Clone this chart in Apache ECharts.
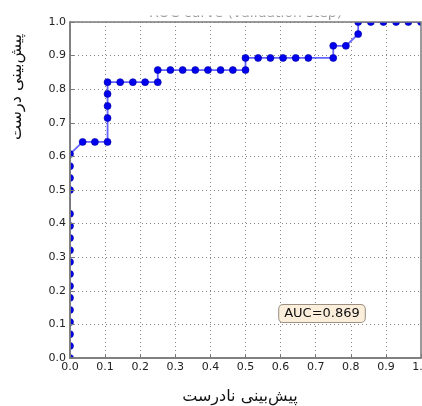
<!DOCTYPE html>
<html>
<head>
<meta charset="utf-8">
<script src="https://cdn.jsdelivr.net/npm/echarts@6/dist/echarts.min.js"></script>
<style>html,body{margin:0;padding:0;background:#fff}#c{width:422px;height:406px}</style>
</head>
<body>
<div id="c"></div>
<script>
// ROC curve values
var fpr = [0,0,0,0,0,0,0,0,0,0,0,0,0,0,0,0,0,
  0.036,0.071,0.107,0.107,0.107,0.107,0.107,
  0.143,0.179,0.214,0.25,0.25,
  0.286,0.321,0.357,0.393,0.429,0.464,0.5,
  0.5,0.536,0.571,0.607,0.643,0.679,0.75,
  0.75,0.786,
  0.821,0.821,
  0.857,0.893,0.929,0.964,1.0];
var tpr = [0,0.036,0.071,0.107,0.143,0.179,0.214,0.25,0.286,0.321,0.357,0.393,0.429,0.5,0.536,0.571,0.607,
  0.643,0.643,0.643,0.714,0.75,0.786,0.821,
  0.821,0.821,0.821,0.821,0.857,
  0.857,0.857,0.857,0.857,0.857,0.857,0.857,
  0.893,0.893,0.893,0.893,0.893,0.893,0.893,
  0.929,0.929,
  0.964,1.0,
  1.0,1.0,1.0,1.0,1.0];
var xTicks = ['0.0','0.1','0.2','0.3','0.4','0.5','0.6','0.7','0.8','0.9','1.0'];
var yTicks = ['0.0','0.1','0.2','0.3','0.4','0.5','0.6','0.7','0.8','0.9','1.0'];
var titleText = 'ROC curve (validation step)';
var xName = 'پیش‌بینی نادرست';
var yName = 'پیش‌بینی درست';
var aucText = 'AUC=0.869';

var pts = fpr.map(function(v,i){return [v,tpr[i]];});
var G = {left:70, right:1, top:22, bottom:48};
var W = 422, H = 406;
var font = 'DejaVu Sans';
function tickFmt(arr){return function(v){var i=Math.round(v*10);return arr[i]!==undefined?arr[i]:'';};}

var chart = echarts.init(document.getElementById('c'), null, {renderer:'canvas'});
chart.setOption({
  animation:false,
  backgroundColor:'#fff',
  grid:{left:G.left,right:G.right,top:G.top,bottom:G.bottom,containLabel:false,outerBoundsMode:'none'},
  xAxis:[
    {type:'value',min:0,max:1,interval:0.1,z:0,
     axisLine:{show:false},axisTick:{show:false},axisLabel:{show:false},
     splitLine:{show:true,lineStyle:{color:'#888',type:[1,3],width:1}}},
    {type:'value',min:0,max:1,interval:0.1,z:10,position:'bottom',
     axisLine:{show:true,onZero:false,lineStyle:{color:'#7a7a7a',width:1.5}},
     axisTick:{show:true,inside:true,length:4,lineStyle:{color:'#7a7a7a'}},
     axisLabel:{show:true,margin:4,color:'#222',fontFamily:font,fontSize:11,formatter:tickFmt(xTicks),showMaxLabel:true,showMinLabel:true,hideOverlap:false},
     splitLine:{show:false}}
  ],
  yAxis:[
    {type:'value',min:0,max:1,interval:0.1,z:0,
     axisLine:{show:false},axisTick:{show:false},axisLabel:{show:false},
     splitLine:{show:true,lineStyle:{color:'#888',type:[1,3],width:1}}},
    {type:'value',min:0,max:1,interval:0.1,z:10,position:'left',
     axisLine:{show:true,onZero:false,lineStyle:{color:'#7a7a7a',width:1.5}},
     axisTick:{show:true,inside:true,length:4,lineStyle:{color:'#7a7a7a'}},
     axisLabel:{show:true,margin:4,color:'#222',fontFamily:font,fontSize:11,formatter:tickFmt(yTicks),showMaxLabel:true,showMinLabel:true,hideOverlap:false},
     splitLine:{show:false}}
  ],
  series:[{
    type:'line',xAxisIndex:0,yAxisIndex:0,data:pts,clip:false,z:2,
    symbol:'circle',symbolSize:7,showAllSymbol:true,
    lineStyle:{color:'rgba(40,40,255,0.72)',width:1.8},
    itemStyle:{color:'#0000ee',borderColor:'#0000a0',borderWidth:0.6}
  }],
  graphic:[
    // white masks outside the plotting area (clip markers like matplotlib)
    {type:'rect',z:5,shape:{x:0,y:0,width:G.left,height:H},style:{fill:'#fff'}},
    {type:'rect',z:5,shape:{x:0,y:H-G.bottom,width:W,height:G.bottom},style:{fill:'#fff'}},
    {type:'rect',z:5,shape:{x:0,y:0,width:W,height:G.top},style:{fill:'#fff'}},
    {type:'rect',z:5,shape:{x:W-G.right,y:0,width:G.right,height:H},style:{fill:'#fff'}},
    // title (mostly hidden)
    {type:'text',z:6,x:(G.left+W-G.right)/2,y:20,style:{text:titleText,fill:'#999',font:'14px "DejaVu Sans"',align:'center',verticalAlign:'bottom'}},
    {type:'rect',z:7,shape:{x:0,y:0,width:W,height:15.5},style:{fill:'#fff'}},
    // frame
    {type:'rect',z:8,shape:{x:G.left,y:G.top,width:W-G.right-G.left,height:H-G.bottom-G.top},style:{fill:null,stroke:'#7a7a7a',lineWidth:1.5}},
    // axis names
    {type:'text',z:11,x:240,y:397,style:{text:xName,fill:'#111',font:'16px "DejaVu Sans"',align:'center',verticalAlign:'middle'}},
    {type:'text',z:11,x:17,y:87,rotation:Math.PI/2,style:{text:yName,fill:'#111',font:'16px "DejaVu Sans"',align:'center',verticalAlign:'middle'}},
    // AUC annotation
    {type:'text',z:11,x:322,y:313.5,style:{text:aucText,fill:'#111',font:'13px "DejaVu Sans"',align:'center',verticalAlign:'middle',
      backgroundColor:'#fbeedb',borderColor:'#9a8f80',borderWidth:1,borderRadius:4,padding:[2,5,2,5]}}
  ]
});
</script>
</body>
</html>
